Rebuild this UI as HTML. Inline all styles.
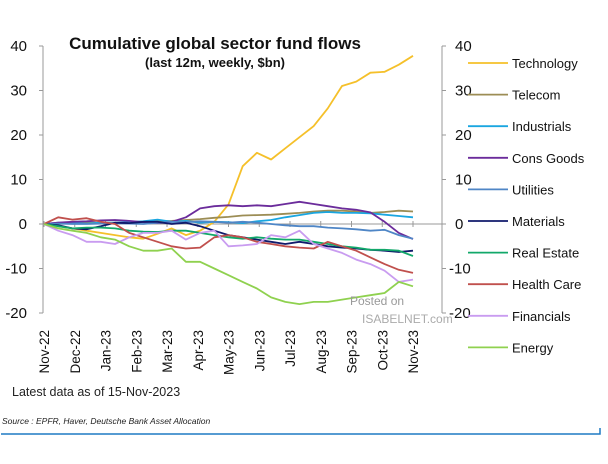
<!DOCTYPE html>
<html><head><meta charset="utf-8"><style>
body{margin:0;background:#fff;font-family:"Liberation Sans",sans-serif;}
svg text{font-family:"Liberation Sans",sans-serif;}
</style></head><body>
<svg id="c" width="608" height="459" viewBox="0 0 608 459">
<text x="215" y="49" text-anchor="middle" font-size="17" font-weight="bold" fill="#111">Cumulative global sector fund flows</text>
<text x="215" y="67" text-anchor="middle" font-size="13" font-weight="bold" fill="#111">(last 12m, weekly, $bn)</text>
<g id="axes"></g>
<g id="series"></g>
<g id="legend"></g>
<text x="350" y="305" font-size="12" fill="#999">Posted on</text>
<text x="362" y="323" font-size="12" fill="#aaa">ISABELNET.com</text>
<text x="12" y="396" font-size="12.5" fill="#222">Latest data as of 15-Nov-2023</text>
<text x="2" y="424" font-size="8.5" font-style="italic" fill="#222">Source : EPFR, Haver, Deutsche Bank Asset Allocation</text>
<path d="M1 434H600V428" stroke="#1f7ac4" stroke-width="1.5" fill="none"/>
</svg>
<script>
const weeks=[0,2,4,6,8,10,12,14,16,18,20,22,24,26,28,30,32,34,36,38,40,42,44,46,48,50,52];
const months=["Nov-22","Dec-22","Jan-23","Feb-23","Mar-23","Apr-23","May-23","Jun-23","Jul-23","Aug-23","Sep-23","Oct-23","Nov-23"];
const yTicks=[40,30,20,10,0,-10,-20];
const seriesNames=["Technology","Telecom","Industrials","Cons Goods","Utilities","Materials","Real Estate","Health Care","Financials","Energy"];
const seriesColors=["#f5c02a","#9c8d55","#1aa6e0","#6b2c9b","#4f86c6","#101a6b","#12a86a","#c0504d","#c99cf0","#8fd14f"];
const technology=[0,-0.5,-1,-1.5,-2,-2.5,-3,-3.3,-2.2,-1,-2.5,-1.5,0.5,4.4,13,16,14.5,17,19.5,22,26,31,32,34,34.2,35.8,37.8];
const telecom=[0,0,0.2,0.3,0.3,0.3,0.3,0.5,0.6,0.7,0.9,1.1,1.4,1.6,1.9,2,2.1,2.3,2.5,2.8,3,3,2.8,2.5,2.7,3,2.8];
const industrials=[0,0.3,0.2,0.1,0.3,0.3,0.4,0.6,1,0.5,0.7,0.3,0.5,0.4,0.2,0.6,0.9,1.5,2,2.5,2.7,2.5,2.5,2.4,2.1,1.8,1.5];
const consGoods=[0,0.3,0.5,0.6,0.8,0.9,0.7,0.4,0.2,0.5,1.5,3.5,4,4.2,4,4.2,4,4.5,5,4.5,4,3.5,3.2,2.6,0.5,-2,-3.4];
const utilities=[0,0.1,0,0,0.1,0.2,0.1,0,0.3,0.5,0.4,0.6,0.5,0.3,0.5,0.3,0,-0.3,-0.5,-0.5,-0.8,-1,-1.2,-1.5,-1.3,-2.5,-3.3];
const materials=[0,-0.3,-1,-1.2,-0.5,0.3,0.2,0.5,0.5,0,0.3,-0.5,-1.5,-2.5,-3,-3.5,-4,-4.5,-4,-4.5,-5,-5.3,-5.5,-5.8,-6,-6.3,-6];
const realEstate=[0,-0.5,-1,-0.8,-0.8,-1,-1.5,-1.7,-1.8,-1.5,-1.5,-2,-2.5,-3,-3.3,-3,-3.3,-3.5,-3.5,-4,-4.5,-5,-5.3,-5.8,-5.8,-6,-7.2];
const healthCare=[0,1.5,1,1.3,0.5,0,-2,-3,-4,-5,-5.5,-5.3,-3,-2.5,-3,-4,-4.5,-5,-5.3,-5.5,-4,-5,-6,-7.5,-9,-10.3,-11];
const financials=[0,-1.5,-2.5,-4,-4,-4.5,-3,-2,-2,-1.5,-3.5,-2,-1.5,-5,-4.8,-4.5,-2.5,-3,-1.5,-4.5,-5.5,-6.5,-8,-9,-10.5,-13,-12.5];
const energy=[0,-1,-1.5,-2,-3,-3.5,-5,-6,-6,-5.5,-8.5,-8.5,-10,-11.5,-13,-14.5,-16.5,-17.5,-18,-17.5,-17.5,-17,-16.5,-16,-15.5,-13,-14];
const allSeries=[technology,telecom,industrials,consGoods,utilities,materials,realEstate,healthCare,financials,energy];

const NS="http://www.w3.org/2000/svg";
const X0=44,X1=413,Y40=46,Y20n=313;
const xs=w=>X0+(X1-X0)*w/52;
const ys=v=>Y40+(40-v)*(Y20n-Y40)/60;
function mk(tag,attrs,parent,txt){const e=document.createElementNS(NS,tag);for(const k in attrs)e.setAttribute(k,attrs[k]);if(txt!==undefined)e.textContent=txt;parent.appendChild(e);return e;}
const ax=document.getElementById('axes');
let e;
e=mk('line',{x1:43,x2:43,y1:ys(40),y2:ys(-20),stroke:'#999'},ax);


e=mk('line',{x1:442,x2:442,y1:ys(40),y2:ys(-20),stroke:'#999'},ax);


e=mk('line',{x1:43,x2:442,y1:ys(0),y2:ys(0),stroke:'#999'},ax);


yTicks.forEach(t=>{
  const y=ys(t);
  mk('line',{x1:39,x2:43,y1:y,y2:y,stroke:'#999'},ax);
  mk('line',{x1:442,x2:446,y1:y,y2:y,stroke:'#999'},ax);
  e=mk('text',{x:27,y:y+5,'text-anchor':'end','font-size':15,fill:'#111'},ax,String(t));
  
  
  e=mk('text',{x:t<0?449:455,y:y+5,'text-anchor':'start','font-size':15,fill:'#111'},ax,String(t));
  
  
});
months.forEach((m,i)=>{
  const x=xs(i*52/12);
  mk('line',{x1:x,x2:x,y1:ys(0)-3,y2:ys(0)+3,stroke:'#999'},ax);
  e=mk('text',{x:0,y:0,'font-size':13.5,fill:'#111','text-anchor':'end',transform:`translate(${x+5},${330}) rotate(-90)`},ax,m);
  
  
});
const sg=document.getElementById('series');
const lg=document.getElementById('legend');
allSeries.forEach((vals,si)=>{
  const d=vals.map((v,i)=>(i?'L':'M')+xs(weeks[i]).toFixed(1)+' '+ys(v).toFixed(1)).join(' ');
  e=mk('path',{d:d,fill:'none',stroke:seriesColors[si],'stroke-width':1.8,'stroke-linejoin':'round'},sg);
  
  
  const ly=63+si*31.6;
  e=mk('line',{x1:468,x2:508,y1:ly,y2:ly,stroke:seriesColors[si],'stroke-width':1.8},lg);
  
  
  e=mk('text',{x:512,y:ly+5,'font-size':13,fill:'#111'},lg,seriesNames[si]);
  
  
});
</script>
</body></html>
